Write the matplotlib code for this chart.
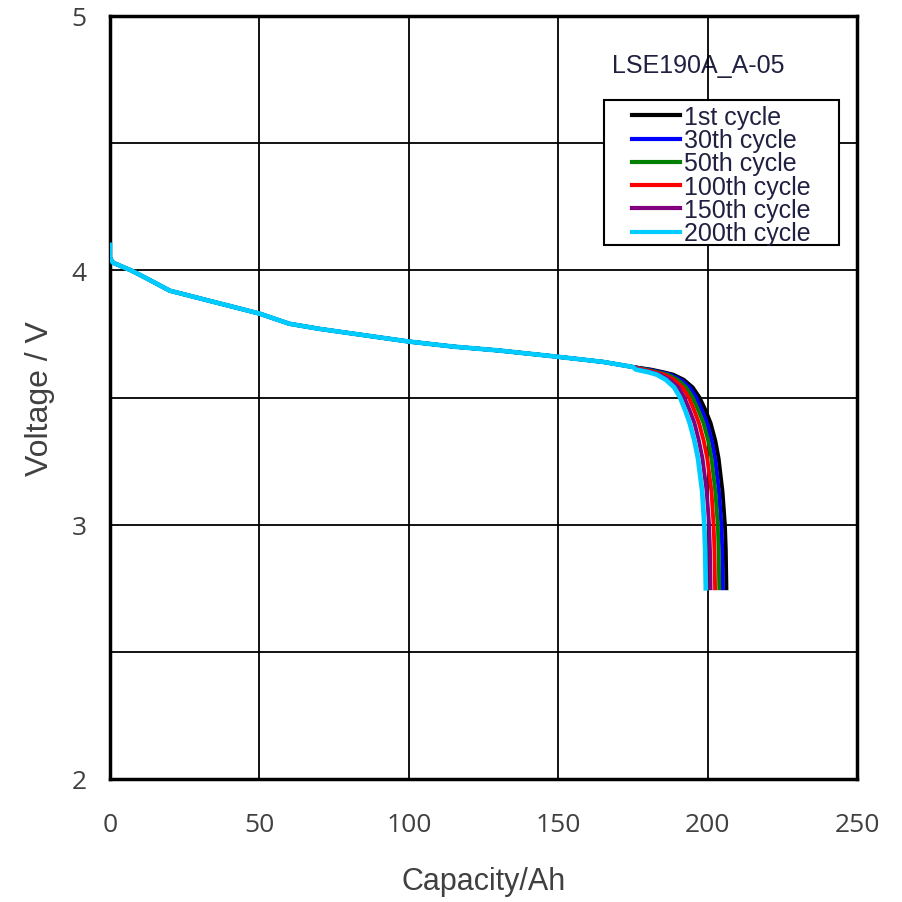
import matplotlib
matplotlib.use("Agg")
import matplotlib.pyplot as plt
from matplotlib.patches import Rectangle
from matplotlib.ticker import MultipleLocator

# ---- data ----
plateau_cap = [0, 0, 1, 3, 7, 12, 20, 30, 40, 50, 60, 70, 85, 100, 115, 130, 150, 165, 175]
plateau_v = [4.10, 4.05, 4.03, 4.02, 4.00, 3.97, 3.92, 3.89, 3.86, 3.83, 3.79, 3.77, 3.745,
             3.72, 3.70, 3.685, 3.66, 3.64, 3.62]

knee_v = [3.61, 3.60, 3.59, 3.57, 3.54, 3.50, 3.45, 3.40, 3.33, 3.26, 3.13, 3.00, 2.90, 2.75]
knee_cap_1st = [181.0, 185.0, 188.5, 192.0, 195.0, 197.3, 199.3, 201.0, 202.6, 203.7, 205.0, 205.8, 206.1, 206.3]
knee_cap_30th = [180.0, 184.0, 187.5, 191.0, 194.0, 196.2, 198.1, 199.8, 201.4, 202.5, 203.8, 204.6, 204.9, 205.1]
knee_cap_50th = [179.2, 183.2, 186.6, 189.9, 192.8, 195.0, 196.9, 198.6, 200.2, 201.3, 202.6, 203.4, 203.7, 203.9]
knee_cap_100th = [178.3, 182.3, 185.5, 188.7, 191.6, 193.7, 195.5, 197.1, 198.7, 199.9, 201.3, 202.0, 202.3, 202.5]
knee_cap_150th = [177.2, 181.1, 184.2, 187.3, 190.2, 192.2, 194.0, 195.6, 197.1, 198.3, 199.7, 200.5, 200.8, 201.0]
knee_cap_200th = [176.0, 180.0, 183.0, 186.0, 188.8, 190.8, 192.5, 194.0, 195.6, 196.8, 198.2, 198.9, 199.2, 199.4]

labels = ["1st cycle", "30th cycle", "50th cycle", "100th cycle", "150th cycle", "200th cycle"]
colors = ["#000000", "#0000FF", "#008000", "#FF0000", "#800080", "#00CCFF"]
knees = [knee_cap_1st, knee_cap_30th, knee_cap_50th, knee_cap_100th, knee_cap_150th, knee_cap_200th]

x_ticks = [0, 50, 100, 150, 200, 250]
y_ticks = [2, 3, 4, 5]
cell_name = "LSE190A_A-05"

# ---- figure ----
fig = plt.figure(figsize=(9.02, 9.03), dpi=100)
ax = fig.add_axes([110 / 902, 1 - 780 / 903, 747 / 902, 763 / 903])

for lab, col, kc in zip(labels, colors, knees):
    lw = 3.4 if lab.startswith("200") else 2.8
    ax.plot(plateau_cap + kc, plateau_v + knee_v, color=col, lw=lw, label=lab,
            solid_joinstyle="round", zorder=3)

ax.set_xlim(0, 250)
ax.set_ylim(2, 5)
ax.set_xticks(x_ticks)
ax.set_yticks(y_ticks)
ax.yaxis.set_minor_locator(MultipleLocator(0.5))
ax.set_axisbelow(True)
ax.grid(True, which="both", color="black", lw=1.3)
ax.tick_params(which="both", length=0)
ax.tick_params(axis="x", pad=24, labelsize=19, labelcolor="#404040")
ax.tick_params(axis="y", pad=17, labelsize=19, labelcolor="#404040")
for t in ax.get_xticklabels() + ax.get_yticklabels():
    t.set_fontfamily("Open Sans")
for s in ax.spines.values():
    s.set_linewidth(2.5)
    s.set_color("black")

ax.set_xlabel("Capacity/Ah", fontsize=22, color="#404040", family="Liberation Sans", labelpad=21)
ax.set_ylabel("Voltage / V", fontsize=23, color="#404040", family="Liberation Sans", labelpad=12)

ax.text((612 - 110) / 747, (780 - 66) / 763, cell_name, transform=ax.transAxes,
        fontsize=18, family="Liberation Sans", color="#202040", va="center", ha="left", zorder=0)

# legend frame
ax.add_patch(Rectangle(((604 - 110) / 747, (780 - 246) / 763), (839 - 604) / 747, (246 - 101) / 763,
                       transform=ax.transAxes, facecolor="white", edgecolor="black", lw=1.5, zorder=4))
leg = ax.legend(loc="upper left", bbox_to_anchor=((632 - 110) / 747, (780 - 106) / 763),
                frameon=False, handlelength=1.9, handletextpad=0.2,
                labelspacing=-0.03, borderpad=0.0, borderaxespad=0,
                prop={"family": "Liberation Sans", "size": 18})
leg.set_zorder(5)
for t in leg.get_texts():
    t.set_color("#202040")
for h in leg.get_lines():
    h.set_linewidth(3)

fig.savefig("out.png", dpi=100)
